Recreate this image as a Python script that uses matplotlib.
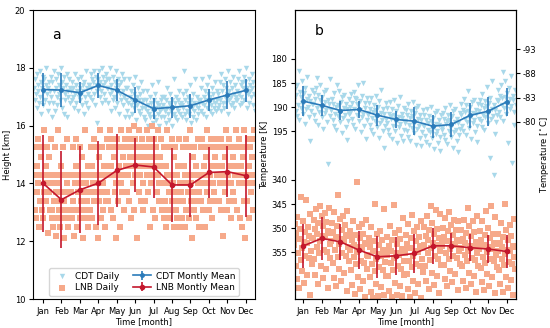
import numpy as np
import matplotlib
matplotlib.use("Agg")
import matplotlib.pyplot as plt

months = ["Jan", "Feb", "Mar", "Apr", "May", "Jun", "Jul", "Aug", "Sep", "Oct", "Nov", "Dec"]

# ---- panel a: heights [km] ----
cdt_height_mean = [17.25, 17.23, 17.14, 17.39, 17.23, 16.89, 16.59, 16.63, 16.69, 16.89, 17.06, 17.22]
cdt_height_std = [0.56, 0.58, 0.37, 0.42, 0.39, 0.45, 0.36, 0.37, 0.42, 0.37, 0.49, 0.40]
lnb_height_mean = [14.01, 13.44, 13.78, 14.01, 14.45, 14.64, 14.57, 13.95, 13.95, 14.38, 14.41, 14.27]
lnb_height_std = [1.68, 1.68, 1.50, 1.45, 1.26, 0.95, 1.07, 1.28, 1.12, 0.88, 0.88, 1.42]

cdt_height_daily = [
    [17.3, 16.9, 17.6, 17.1, 17.8, 16.6, 17.4, 17.2, 16.8, 17.9, 17.0, 17.5, 16.4, 17.3, 17.7, 16.7, 17.2, 17.6, 16.9, 17.4, 18.0, 17.1, 16.5, 17.3, 17.5, 16.8, 17.2, 17.7, 17.0, 16.3],
    [17.5, 16.8, 17.2, 17.9, 16.5, 17.3, 17.6, 17.0, 16.7, 17.8, 17.1, 17.4, 16.9, 17.2, 18.0, 16.6, 17.5, 17.3, 16.4, 17.7, 17.1, 16.9, 17.4, 17.8, 16.3, 17.2, 17.0, 17.6, 16.8, 17.3],
    [17.2, 16.9, 17.5, 17.0, 17.3, 16.6, 17.8, 17.1, 16.8, 17.4, 17.2, 16.5, 17.6, 17.0, 17.3, 16.9, 17.7, 17.1, 16.7, 17.4, 17.2, 16.4, 17.5, 17.0, 17.9, 16.8, 17.3, 17.1, 16.6, 17.4],
    [17.4, 17.0, 17.8, 17.3, 16.9, 17.6, 17.5, 17.1, 17.9, 16.7, 17.4, 17.7, 17.2, 16.1, 17.6, 17.3, 17.9, 17.0, 17.5, 17.2, 18.0, 16.8, 17.4, 17.7, 17.1, 17.5, 16.9, 17.8, 17.3, 17.6],
    [17.3, 16.8, 17.6, 17.1, 18.0, 16.5, 17.4, 17.2, 16.9, 17.7, 17.0, 17.5, 16.6, 17.3, 17.9, 16.8, 17.2, 17.6, 16.4, 17.4, 17.1, 16.9, 17.5, 17.8, 16.7, 17.2, 17.0, 17.6, 16.3, 17.3],
    [16.9, 16.5, 17.3, 16.8, 17.6, 16.3, 17.0, 16.7, 17.2, 16.4, 16.9, 17.4, 16.6, 17.1, 16.8, 17.7, 16.2, 17.0, 16.7, 17.3, 16.5, 16.9, 17.1, 16.4, 17.5, 16.8, 16.6, 17.2, 16.9, 16.3],
    [16.6, 16.2, 16.9, 16.5, 17.2, 16.0, 16.7, 16.4, 17.0, 16.3, 16.8, 16.6, 17.4, 16.1, 16.5, 16.9, 16.3, 17.1, 16.6, 16.2, 16.8, 16.4, 17.5, 16.7, 16.0, 16.5, 16.9, 16.3, 16.6, 17.0],
    [16.7, 16.3, 17.0, 16.5, 16.9, 16.1, 16.6, 17.3, 16.4, 16.8, 16.2, 16.7, 17.1, 16.5, 16.9, 16.0, 16.6, 17.6, 16.4, 16.8, 16.3, 17.0, 16.6, 16.2, 16.9, 16.5, 17.2, 16.7, 16.4, 16.8],
    [16.7, 16.3, 17.1, 16.6, 17.9, 16.4, 16.9, 16.2, 17.2, 16.5, 16.8, 17.0, 16.4, 16.7, 17.4, 16.1, 16.9, 16.6, 17.1, 16.3, 16.8, 16.5, 17.6, 16.7, 16.2, 17.0, 16.6, 16.4, 16.9, 16.8],
    [16.9, 16.5, 17.3, 16.8, 17.6, 16.4, 17.0, 16.7, 17.2, 16.3, 16.9, 17.4, 16.6, 17.1, 16.8, 17.7, 16.5, 17.0, 16.7, 17.3, 16.4, 16.9, 17.1, 16.6, 17.5, 16.8, 16.5, 17.2, 16.9, 16.6],
    [17.1, 16.7, 17.5, 16.9, 17.8, 16.5, 17.2, 16.8, 17.4, 16.6, 17.0, 17.6, 16.8, 17.3, 17.1, 17.9, 16.4, 17.2, 16.9, 17.5, 16.7, 17.0, 17.3, 16.8, 17.7, 17.1, 16.6, 17.4, 17.0, 16.9],
    [17.2, 16.9, 17.6, 17.1, 17.9, 16.7, 17.4, 17.0, 17.5, 16.8, 17.3, 17.7, 16.9, 17.2, 17.5, 18.0, 16.6, 17.3, 17.1, 17.6, 16.8, 17.2, 17.4, 17.0, 17.8, 17.3, 16.7, 17.5, 17.1, 16.5],
]

lnb_height_daily = [
    [14.3, 13.1, 15.25, 12.8, 14.6, 13.7, 15.55, 14.0, 12.5, 14.3, 13.4, 15.25, 14.9, 13.1, 14.3, 12.8, 15.85, 13.7, 14.0, 14.6, 13.4, 15.25, 12.3, 14.3, 13.7, 14.9, 13.1, 15.55, 14.0, 12.8],
    [13.1, 12.5, 14.3, 13.4, 15.25, 12.2, 13.7, 14.0, 12.8, 15.85, 13.1, 14.3, 12.5, 13.4, 14.6, 12.8, 13.7, 15.25, 12.1, 13.4, 14.3, 13.1, 12.8, 14.0, 15.55, 12.5, 13.7, 13.1, 14.3, 12.8],
    [13.7, 12.8, 14.3, 13.4, 15.25, 12.2, 14.0, 13.1, 14.6, 15.55, 12.5, 13.7, 14.3, 13.1, 15.25, 12.8, 14.0, 13.4, 14.9, 12.1, 13.7, 14.3, 13.1, 15.85, 12.8, 14.0, 13.4, 14.6, 12.5, 13.7],
    [14.3, 13.1, 15.25, 13.7, 14.6, 12.8, 14.0, 15.55, 13.4, 14.3, 12.5, 15.25, 13.7, 14.0, 12.1, 14.9, 13.4, 15.85, 14.3, 12.8, 13.7, 15.25, 14.0, 13.1, 14.6, 12.5, 14.3, 13.4, 15.55, 13.7],
    [14.6, 13.4, 15.25, 14.3, 15.85, 13.1, 14.6, 15.55, 12.8, 14.3, 14.9, 13.7, 15.25, 14.0, 12.1, 15.55, 14.3, 13.4, 15.25, 14.6, 12.5, 14.0, 15.85, 13.7, 14.9, 15.25, 13.1, 14.3, 15.55, 14.6],
    [14.6, 13.7, 15.25, 14.3, 15.85, 13.4, 14.9, 15.55, 12.8, 14.6, 15.25, 14.0, 16.0, 13.1, 14.3, 15.55, 14.9, 12.1, 15.25, 14.6, 13.7, 15.85, 14.3, 15.25, 13.4, 14.9, 15.55, 14.0, 13.1, 14.6],
    [14.6, 13.4, 15.25, 14.3, 15.85, 13.7, 14.9, 15.55, 12.5, 14.6, 15.25, 14.0, 16.0, 13.1, 14.3, 15.55, 14.9, 12.8, 15.25, 14.6, 13.7, 15.85, 14.3, 14.0, 13.4, 14.9, 15.55, 14.0, 13.1, 14.6],
    [14.0, 12.8, 15.25, 13.4, 14.6, 12.5, 14.3, 15.85, 13.1, 14.0, 13.7, 15.25, 12.8, 14.3, 15.55, 13.4, 14.0, 12.5, 14.9, 13.7, 15.25, 13.1, 14.3, 12.8, 14.6, 13.4, 15.55, 14.0, 12.5, 13.7],
    [14.0, 12.8, 15.25, 13.4, 14.6, 12.5, 14.3, 15.55, 13.1, 14.0, 13.7, 15.25, 12.8, 14.3, 15.85, 13.4, 14.0, 12.1, 14.9, 13.7, 15.25, 13.1, 14.3, 12.8, 14.6, 13.4, 15.55, 14.0, 12.5, 13.7],
    [14.3, 13.4, 15.25, 14.0, 15.55, 13.1, 14.6, 15.25, 12.5, 14.3, 14.9, 13.7, 15.85, 14.0, 13.1, 15.25, 14.3, 13.4, 15.55, 14.6, 12.8, 14.0, 15.25, 13.7, 14.9, 15.25, 13.4, 14.3, 15.55, 14.6],
    [14.3, 13.4, 15.25, 14.0, 15.55, 13.1, 14.6, 15.25, 12.2, 14.3, 14.9, 13.7, 15.85, 14.0, 13.1, 15.25, 14.3, 13.4, 15.55, 14.6, 12.8, 14.0, 15.25, 13.7, 14.9, 15.25, 13.4, 14.3, 15.85, 14.6],
    [14.3, 13.1, 15.25, 14.0, 15.55, 12.8, 14.6, 15.25, 12.5, 14.3, 14.9, 13.4, 15.85, 14.0, 12.1, 15.25, 14.3, 13.4, 15.55, 14.6, 12.8, 14.0, 15.25, 13.7, 14.9, 15.55, 13.1, 14.3, 15.85, 14.0],
]

# ---- panel b: temperatures ----
cdt_temp_mean = [188.74, 189.6, 190.67, 190.46, 191.63, 192.52, 192.87, 193.9, 193.56, 191.7, 190.8, 188.88]
cdt_temp_std = [3.1, 2.2, 1.9, 1.85, 2.2, 1.8, 2.9, 2.35, 2.6, 2.6, 3.0, 2.9]
lnb_temp_mean = [353.64, 352.1, 352.8, 354.5, 355.9, 355.7, 355.2, 353.64, 353.64, 354.0, 354.3, 354.8]
lnb_temp_std = [4.55, 4.5, 3.75, 4.0, 4.4, 3.9, 4.1, 3.7, 2.75, 2.8, 2.95, 3.4]

cdt_temp_daily = [
    [188.5, 186.2, 190.8, 187.4, 191.9, 185.3, 189.6, 182.6, 192.6, 186.8, 190.1, 187.9, 184.6, 189.2, 191.3, 187.1, 188.9, 193.5, 186.0, 190.4, 188.3, 183.8, 189.9, 192.1, 187.6, 188.7, 197.0, 190.7, 186.5, 189.3],
    [189.4, 187.1, 191.6, 188.3, 192.8, 186.0, 190.2, 183.9, 193.7, 187.5, 190.9, 188.6, 185.5, 190.0, 192.1, 187.9, 189.7, 194.4, 186.8, 191.2, 189.0, 186.4, 190.6, 193.0, 188.4, 201.7, 189.3, 191.8, 184.2, 190.5],
    [190.5, 188.2, 192.7, 189.4, 193.8, 187.1, 191.3, 189.9, 194.6, 185.5, 191.9, 189.6, 186.6, 191.0, 193.1, 188.9, 190.7, 195.4, 187.8, 192.2, 190.1, 187.4, 191.6, 194.0, 189.4, 190.3, 196.8, 192.8, 188.2, 191.4],
    [189.9, 191.1, 187.2, 192.5, 189.2, 193.6, 186.9, 190.3, 188.0, 194.4, 188.3, 191.7, 189.4, 185.4, 190.8, 192.9, 188.7, 190.5, 195.2, 187.6, 192.0, 184.9, 191.4, 193.8, 189.2, 190.1, 196.5, 192.6, 188.0, 191.2],
    [191.5, 189.2, 193.7, 190.4, 194.8, 188.1, 192.3, 190.9, 195.6, 189.5, 192.9, 190.6, 187.6, 192.0, 194.1, 189.9, 191.7, 196.4, 188.8, 193.2, 191.1, 186.4, 192.6, 195.0, 190.4, 191.3, 198.4, 193.8, 189.2, 192.4],
    [193.2, 190.1, 194.6, 191.3, 195.7, 189.0, 192.4, 191.8, 196.5, 190.4, 193.8, 191.5, 188.5, 192.9, 195.0, 190.8, 192.6, 197.3, 189.7, 194.1, 192.0, 187.9, 193.5, 195.9, 191.3, 192.2, 196.9, 194.7, 190.1, 193.3],
    [192.8, 190.5, 195.0, 191.7, 196.1, 189.4, 193.6, 192.2, 196.9, 190.8, 194.2, 191.9, 188.9, 193.3, 195.4, 191.2, 193.0, 197.7, 190.1, 194.5, 192.4, 189.7, 193.9, 196.3, 191.7, 192.6, 198.0, 195.1, 190.5, 193.7],
    [193.8, 191.5, 196.0, 192.7, 197.1, 190.4, 194.6, 193.2, 197.9, 191.8, 195.2, 192.9, 189.9, 194.3, 196.4, 192.2, 194.0, 198.7, 191.1, 195.5, 193.4, 190.7, 194.9, 197.3, 192.7, 193.6, 199.0, 196.1, 191.5, 194.7],
    [194.3, 191.2, 195.7, 192.4, 196.8, 190.1, 193.4, 192.9, 197.6, 191.5, 194.9, 192.6, 189.6, 194.0, 196.1, 191.9, 193.7, 198.4, 190.8, 195.2, 193.1, 190.4, 194.6, 197.0, 192.4, 193.3, 199.2, 195.8, 191.2, 194.4],
    [191.6, 189.3, 193.8, 190.5, 194.9, 188.2, 192.4, 191.0, 195.7, 189.6, 193.0, 190.7, 186.7, 192.1, 194.2, 190.0, 191.8, 196.5, 188.9, 193.3, 191.2, 188.5, 192.7, 195.1, 190.5, 191.4, 197.2, 193.9, 189.3, 192.5],
    [190.7, 188.4, 192.9, 189.6, 194.0, 187.3, 191.5, 190.1, 194.8, 188.7, 192.1, 189.8, 185.8, 191.2, 193.3, 189.1, 190.9, 200.5, 188.0, 192.4, 190.3, 184.6, 191.8, 204.1, 189.6, 190.5, 195.6, 193.0, 188.4, 191.6],
    [188.7, 186.4, 190.9, 187.6, 192.0, 185.3, 189.5, 188.1, 192.8, 182.7, 190.1, 187.8, 184.5, 189.2, 191.3, 187.1, 188.9, 197.4, 186.0, 190.4, 188.3, 183.6, 189.8, 201.5, 187.6, 188.5, 193.6, 191.0, 186.4, 189.6],
]

lnb_temp_daily = [
    [353.5, 349.2, 357.8, 351.0, 360.5, 347.6, 355.1, 352.3, 362.4, 350.1, 356.6, 343.5, 354.0, 358.9, 348.4, 352.8, 361.3, 350.7, 355.8, 344.2, 353.1, 359.6, 349.8, 356.2, 351.6, 363.8, 347.0, 354.6, 357.3, 352.0],
    [352.0, 348.3, 356.4, 350.2, 359.7, 346.1, 353.8, 351.1, 361.5, 349.0, 355.2, 345.3, 352.6, 357.9, 347.4, 351.5, 360.2, 349.6, 354.4, 346.8, 351.9, 358.5, 348.7, 355.0, 350.6, 362.3, 345.9, 353.2, 356.1, 350.9],
    [352.7, 349.0, 357.1, 350.8, 360.3, 346.7, 354.4, 351.8, 362.0, 349.6, 355.9, 343.2, 353.3, 358.5, 348.1, 352.2, 360.9, 350.3, 355.1, 347.4, 352.6, 359.2, 349.4, 355.7, 351.3, 363.0, 346.5, 353.9, 356.8, 351.6],
    [354.4, 350.6, 358.7, 352.5, 361.8, 348.4, 356.0, 353.4, 363.5, 351.3, 357.4, 340.4, 355.0, 360.1, 349.8, 353.9, 362.6, 352.0, 356.7, 349.1, 354.3, 360.8, 351.1, 357.2, 353.0, 364.2, 348.2, 355.6, 358.4, 353.3],
    [355.8, 352.0, 360.1, 353.9, 363.2, 349.8, 357.4, 354.8, 364.5, 352.7, 358.8, 345.0, 356.4, 361.5, 351.2, 355.3, 364.0, 353.4, 358.1, 350.5, 355.7, 362.2, 352.5, 358.6, 354.4, 363.8, 346.0, 357.0, 359.8, 354.7],
    [355.6, 351.8, 359.9, 353.7, 363.0, 349.6, 357.2, 354.6, 364.3, 352.5, 358.6, 345.2, 356.2, 361.3, 351.0, 355.1, 363.8, 353.2, 357.9, 350.3, 355.5, 362.0, 352.3, 358.4, 354.2, 364.1, 347.8, 356.8, 359.6, 354.5],
    [355.1, 351.3, 359.4, 353.2, 362.5, 349.1, 356.7, 354.1, 364.2, 352.0, 358.1, 347.3, 355.7, 360.8, 350.5, 354.6, 363.3, 352.7, 357.4, 349.8, 355.0, 361.5, 351.8, 357.9, 353.7, 364.4, 348.6, 356.3, 359.1, 354.0],
    [353.5, 349.7, 357.8, 351.6, 360.9, 347.5, 355.1, 352.5, 362.6, 350.4, 356.5, 345.4, 354.1, 359.2, 348.9, 353.0, 361.7, 351.1, 355.8, 346.3, 353.4, 359.9, 350.2, 356.3, 352.1, 363.4, 347.0, 354.7, 357.5, 352.4],
    [353.6, 350.0, 357.5, 351.9, 360.4, 347.9, 355.2, 352.7, 362.0, 350.6, 356.4, 346.6, 354.2, 358.8, 349.3, 353.2, 361.2, 351.4, 355.7, 348.2, 353.5, 359.4, 350.4, 356.1, 352.4, 362.8, 348.5, 354.8, 357.3, 352.6],
    [354.0, 350.3, 357.9, 352.2, 360.8, 348.2, 355.6, 353.1, 362.4, 351.0, 356.8, 345.8, 354.6, 359.2, 349.6, 353.6, 361.6, 351.7, 356.1, 348.6, 353.9, 359.8, 350.8, 356.5, 352.8, 363.1, 347.4, 355.2, 357.7, 353.0],
    [354.3, 350.6, 358.2, 352.5, 361.1, 348.5, 355.9, 353.4, 362.7, 351.3, 357.1, 346.4, 354.9, 359.5, 349.9, 353.9, 361.9, 352.0, 356.4, 345.3, 354.2, 360.1, 351.1, 356.8, 353.1, 363.3, 347.6, 355.5, 358.0, 353.3],
    [354.8, 351.1, 358.7, 353.0, 361.6, 349.0, 356.4, 353.9, 363.2, 351.8, 357.6, 345.0, 355.4, 360.0, 350.4, 354.4, 362.4, 352.5, 356.9, 349.4, 354.7, 360.6, 351.6, 357.3, 353.6, 363.8, 348.1, 356.0, 358.5, 353.8],
]

# LNB temperatures share the inverted axis below the CDT ones, shifted by this offset
LNB_OFFSET = 135
right_ticks = [178, 183, 188, 193]
right_labels = ["-93", "-88", "-83", "-80"]

C_CDT_DAY = "#a8d8ea"
C_LNB_DAY = "#f6a98a"
C_CDT_MEAN = "#2b7bba"
C_LNB_MEAN = "#c4172c"


def daily_xy(daily):
    xs, ys = [], []
    for m, vals in enumerate(daily, start=1):
        n = len(vals)
        for i, v in enumerate(vals):
            xs.append(m - 0.5 + (i + 0.5) / n)
            ys.append(v)
    return np.array(xs), np.array(ys)


plt.rcParams["font.size"] = 6
plt.rcParams["xtick.major.size"] = 3
plt.rcParams["ytick.major.size"] = 3
plt.rcParams["xtick.major.pad"] = 2.5
plt.rcParams["ytick.major.pad"] = 2.5
plt.rcParams["axes.linewidth"] = 0.8

fig = plt.figure(figsize=(5.5, 3.28), dpi=100)
ax1 = fig.add_axes([0.06, 0.088, 0.4036, 0.8815])
ax2 = fig.add_axes([0.5364, 0.088, 0.4018, 0.8815])

mx = np.arange(1, 13)

# panel a
x, y = daily_xy(cdt_height_daily)
ax1.scatter(x, y, marker="v", s=15, color=C_CDT_DAY, linewidths=0, label="CDT Daily")
x, y = daily_xy(lnb_height_daily)
ax1.scatter(x, y, marker="s", s=14, color=C_LNB_DAY, linewidths=0, label="LNB Daily")
ax1.errorbar(mx, cdt_height_mean, yerr=cdt_height_std, color=C_CDT_MEAN, marker="o", ms=2.5,
             lw=1.2, elinewidth=1.2, label="CDT Montly Mean")
ax1.errorbar(mx, lnb_height_mean, yerr=lnb_height_std, color=C_LNB_MEAN, marker="o", ms=3,
             lw=1.2, elinewidth=1.2, label="LNB Montly Mean")
ax1.set_xlim(0.46, 12.5)
ax1.set_ylim(10, 20)
ax1.set_yticks([10, 12, 14, 16, 18, 20])
ax1.set_xticks(mx)
ax1.set_xticklabels(months)
ax1.set_xlabel("Time [month]", labelpad=1)
ax1.set_ylabel("Height [km]", labelpad=2)
ax1.text(0.086, 0.913, "a", transform=ax1.transAxes, fontsize=10, va="center")
h, l = ax1.get_legend_handles_labels()
ax1.legend(h, l, loc="lower center", ncol=2, fontsize=6.5, borderaxespad=0.4,
           handletextpad=0.5, columnspacing=1.5, labelspacing=0.25)

# panel b
x, y = daily_xy(cdt_temp_daily)
ax2.scatter(x, y, marker="v", s=15, color=C_CDT_DAY, linewidths=0)
x, y = daily_xy(lnb_temp_daily)
ax2.scatter(x, y - LNB_OFFSET, marker="s", s=14, color=C_LNB_DAY, linewidths=0)
ax2.errorbar(mx, cdt_temp_mean, yerr=cdt_temp_std, color=C_CDT_MEAN, marker="o", ms=2.5,
             lw=1.2, elinewidth=1.2)
ax2.errorbar(mx, np.array(lnb_temp_mean) - LNB_OFFSET, yerr=lnb_temp_std, color=C_LNB_MEAN,
             marker="o", ms=3, lw=1.2, elinewidth=1.2)
ax2.set_xlim(0.55, 12.5)
ax2.set_ylim(229.65, 169.9)
left_vals = [180, 185, 190, 195, 340, 345, 350, 355]
ax2.set_yticks([v if v < 300 else v - LNB_OFFSET for v in left_vals])
ax2.set_yticklabels([str(v) for v in left_vals])
ax2.set_xticks(mx)
ax2.set_xticklabels(months)
ax2.set_xlabel("Time [month]", labelpad=1)
ax2.set_ylabel("Temperature [K]", labelpad=2)
ax2.text(0.09, 0.927, "b", transform=ax2.transAxes, fontsize=10, va="center")

axr = ax2.twinx()
axr.set_ylim(ax2.get_ylim())
axr.set_yticks(right_ticks)
axr.set_yticklabels(right_labels)
axr.tick_params(axis="y", pad=2)
axr.set_ylabel("Temperature [$^\\circ$C]", labelpad=1)

fig.savefig("out.png", dpi=100)
